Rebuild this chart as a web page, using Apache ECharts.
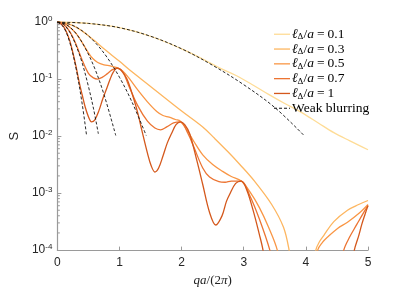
<!DOCTYPE html>
<html><head><meta charset="utf-8">
<script src="https://cdn.jsdelivr.net/npm/echarts@6/dist/echarts.min.js"></script>
<style>html,body{margin:0;padding:0;background:#fff}#c{width:407px;height:292px}</style>
</head><body><div id="c"></div>
<script>
// x = qa/(2π); values are log10(S)
const xTicks = [0, 1, 2, 3, 4, 5];
const ellLabels = ['0.1', '0.3', '0.5', '0.7', '1'];
const ell01 = [[0,0],[0.5,-0.025],[1,-0.1],[1.5,-0.25],[2,-0.47],[2.34,-0.65],[2.6,-0.8],[2.86,-0.93],[3.14,-1.1],[3.4,-1.27],[3.66,-1.43],[3.92,-1.58],[4.2,-1.77],[4.45,-1.94],[4.7,-2.08],[5,-2.24]];
const ell03 = [[0,0],[0.1,-0.01],[0.2,-0.04],[0.3,-0.09],[0.4,-0.16],[0.5,-0.24],[0.6,-0.33],[0.76,-0.48],[1.0,-0.69],[1.15,-0.83],[1.5,-1.13],[2.0,-1.56],[2.34,-1.84],[2.53,-2.04],[2.75,-2.28],[2.93,-2.49],[3.18,-2.8],[3.45,-3.2],[3.64,-3.6],[3.73,-4.0],[3.8,-4.5],[3.95,-5.5],[4.1,-4.5],[4.16,-4.0],[4.22,-3.85],[4.29,-3.74],[4.45,-3.5],[4.67,-3.3],[4.85,-3.2],[5,-3.13]];
const ell05 = [[0,0],[0.1,-0.02],[0.2,-0.09],[0.3,-0.2],[0.4,-0.36],[0.5,-0.54],[0.57,-0.64],[0.65,-0.71],[0.75,-0.75],[0.85,-0.77],[0.96,-0.8],[1.05,-0.86],[1.15,-0.98],[1.3,-1.2],[1.45,-1.4],[1.6,-1.57],[1.7,-1.64],[1.8,-1.67],[1.9,-1.71],[1.98,-1.74],[2.1,-1.92],[2.2,-2.1],[2.34,-2.33],[2.5,-2.5],[2.66,-2.62],[2.8,-2.71],[2.96,-2.79],[3.1,-2.98],[3.25,-3.25],[3.4,-3.6],[3.54,-4.0],[3.65,-4.6],[3.9,-6],[4.1,-4.6],[4.19,-4.0],[4.27,-3.86],[4.35,-3.77],[4.51,-3.62],[4.67,-3.51],[4.87,-3.34],[5,-3.2]];
const ell07 = [[0,0],[0.1,-0.04],[0.2,-0.17],[0.3,-0.39],[0.4,-0.67],[0.5,-0.9],[0.58,-0.98],[0.65,-1.0],[0.72,-0.97],[0.8,-0.91],[0.88,-0.84],[0.96,-0.81],[1.05,-0.87],[1.15,-1.12],[1.3,-1.48],[1.45,-1.74],[1.57,-1.86],[1.66,-1.89],[1.76,-1.84],[1.87,-1.77],[1.98,-1.75],[2.1,-1.95],[2.2,-2.2],[2.34,-2.56],[2.45,-2.72],[2.6,-2.8],[2.7,-2.81],[2.8,-2.79],[2.96,-2.79],[3.1,-3.05],[3.25,-3.45],[3.42,-4.0],[3.55,-4.6],[4.0,-6],[4.5,-4.6],[4.61,-4.0],[4.7,-3.78],[4.82,-3.55],[4.92,-3.36],[5,-3.22]];
const ell1 = [[0,0],[0.1,-0.08],[0.2,-0.33],[0.3,-0.78],[0.35,-1.05],[0.4,-1.28],[0.45,-1.5],[0.5,-1.66],[0.55,-1.75],[0.6,-1.72],[0.67,-1.55],[0.73,-1.35],[0.8,-1.15],[0.85,-1.0],[0.9,-0.88],[0.96,-0.81],[1.02,-0.84],[1.12,-1.0],[1.23,-1.35],[1.3,-1.62],[1.36,-1.9],[1.45,-2.3],[1.51,-2.52],[1.57,-2.63],[1.63,-2.56],[1.7,-2.35],[1.77,-2.12],[1.84,-1.95],[1.91,-1.8],[1.98,-1.75],[2.05,-1.8],[2.13,-1.96],[2.25,-2.45],[2.34,-2.85],[2.45,-3.34],[2.55,-3.56],[2.65,-3.4],[2.72,-3.15],[2.77,-3.03],[2.87,-2.83],[2.96,-2.79],[3.05,-2.95],[3.15,-3.3],[3.25,-3.72],[3.31,-4.0],[3.38,-4.5],[4.0,-6],[4.7,-4.6],[4.78,-4.0],[4.85,-3.75],[4.9,-3.55],[4.95,-3.38],[5,-3.22]];
const weak01 = [[0,0],[0.5,-0.025],[1,-0.1],[1.5,-0.25],[2,-0.47],[2.5,-0.76],[3,-1.1],[3.5,-1.5],[3.97,-1.99]];
const weak03 = [[0,0],[0.2,-0.04],[0.4,-0.155],[0.6,-0.35],[0.8,-0.62],[1.0,-0.97],[1.2,-1.4],[1.43,-1.99]];
const weak05 = [[0,0],[0.15,-0.05],[0.3,-0.2],[0.45,-0.46],[0.6,-0.81],[0.75,-1.27],[0.94,-1.99]];
const weak07 = [[0,0],[0.1,-0.045],[0.2,-0.18],[0.3,-0.41],[0.4,-0.72],[0.5,-1.13],[0.58,-1.51],[0.66,-1.96]];
const weak1 = [[0,0],[0.1,-0.09],[0.2,-0.36],[0.3,-0.81],[0.4,-1.44],[0.47,-1.99]];
const minorMantissas = [2,3,4,5,6,7,8,9];
const minorDecades = [-4,-3,-2,-1];

const colors = ['#FEDC96', '#FDB660', '#F99645', '#EC7432', '#D4581C'];
const solids = [ell01, ell03, ell05, ell07, ell1];
const weaks = [weak01, weak03, weak05, weak07, weak1];
const toS = arr => arr.map(p => [p[0], Math.pow(10, p[1])]);

const series = [];
solids.forEach((d, i) => {
  series.push({
    name: ellLabels[i], type: 'line', data: toS(d), showSymbol: false, symbol: 'none',
    smooth: 0.35, lineStyle: { color: colors[i], width: 1.3 }, itemStyle: { color: colors[i] }, z: 2 + i
  });
});
weaks.forEach(d => {
  series.push({
    name: 'Weak blurring', type: 'line', data: toS(d), showSymbol: false, symbol: 'none',
    smooth: 0.35, lineStyle: { color: '#111', width: 0.9, type: [3, 2] }, itemStyle: { color: '#111' }, z: 10
  });
});
const minorData = [];
minorDecades.forEach(e => minorMantissas.forEach(m => minorData.push([0, m * Math.pow(10, e)])));
series.push({
  type: 'custom', silent: true, data: minorData, z: 11,
  renderItem: (params, api) => {
    const p = api.coord([api.value(0), api.value(1)]);
    return { type: 'line', shape: { x1: p[0], y1: p[1], x2: p[0] + 2.5, y2: p[1] }, style: { stroke: '#9a9a9a', lineWidth: 1 } };
  }
});

const solidIcon = 'path://M0,0H16V1.3H0Z';
const dashIcon = 'path://M0,0H3V1H0Z M5,0H8V1H5Z M10,0H13V1H10Z M15,0H16V1H15Z';
const legendData = ellLabels.map(n => ({ name: n, icon: solidIcon })).concat([{ name: 'Weak blurring', icon: dashIcon }]);

const serif = 'Liberation Serif';
const chart = echarts.init(document.getElementById('c'), null, { renderer: 'canvas' });
chart.setOption({
  animation: false,
  backgroundColor: '#fff',
  grid: { left: 52, right: 39, top: 22, bottom: 39, containLabel: false },
  xAxis: {
    type: 'value', min: 0, max: 5, interval: 1,
    name: '{i|qa}{n|/(2}{i|π}{n|)}', nameLocation: 'middle', nameGap: 21,
    nameTextStyle: { rich: {
      i: { fontFamily: serif, fontStyle: 'italic', fontSize: 13, color: '#222' },
      n: { fontFamily: serif, fontSize: 13, color: '#222' } } },
    axisLine: { lineStyle: { color: '#9a9a9a', width: 1.2 } },
    axisTick: { inside: true, length: 3.5, lineStyle: { color: '#9a9a9a' } },
    axisLabel: { color: '#262626', fontFamily: 'Liberation Sans', fontSize: 12, margin: 7,
      formatter: v => xTicks.indexOf(v) >= 0 ? String(v) : '' },
    splitLine: { show: false }
  },
  yAxis: {
    type: 'log', logBase: 10, min: 1e-4, max: 1,
    name: 'S', nameLocation: 'middle', nameGap: 35, nameRotate: 90,
    nameTextStyle: { fontFamily: 'Liberation Sans', fontSize: 13, color: '#262626' },
    axisLine: { show: true, lineStyle: { color: '#9a9a9a', width: 1.2 } },
    axisTick: { show: true, inside: true, length: 4, lineStyle: { color: '#9a9a9a' } },
    axisLabel: { color: '#262626', margin: 5,
      formatter: v => '{b|10}{s|' + Math.round(Math.log10(v)) + '}',
      rich: {
        b: { fontFamily: 'Liberation Sans', fontSize: 12, color: '#262626' },
        s: { fontFamily: 'Liberation Sans', fontSize: 8, color: '#262626', verticalAlign: 'top', padding: [0, 0, 7, 0] } } },
    splitLine: { show: false }
  },
  legend: {
    orient: 'vertical', left: 269, top: 22, itemWidth: 16, itemHeight: 10, itemGap: 0.3,
    data: legendData,
    formatter: name => name === 'Weak blurring' ? '{n|Weak blurring}' : '{i|ℓ}{s|Δ}{n|/}{i|a}{e|=}{n|' + name + '}',
    textStyle: { color: '#000', fontFamily: serif, fontSize: 13, lineHeight: 14.5, padding: [0, 0, 0, -3],
      rich: {
        i: { fontFamily: serif, fontStyle: 'italic', fontSize: 13.5, color: '#000', lineHeight: 14.5 },
        s: { fontFamily: serif, fontSize: 9, color: '#000', verticalAlign: 'bottom', lineHeight: 11 },
        e: { fontFamily: serif, fontSize: 13.5, color: '#000', lineHeight: 14.5, padding: [0, 3, 0, 3] },
        n: { fontFamily: serif, fontSize: 13.5, color: '#000', lineHeight: 14.5 } } }
  },
  series: series
});
</script></body></html>
